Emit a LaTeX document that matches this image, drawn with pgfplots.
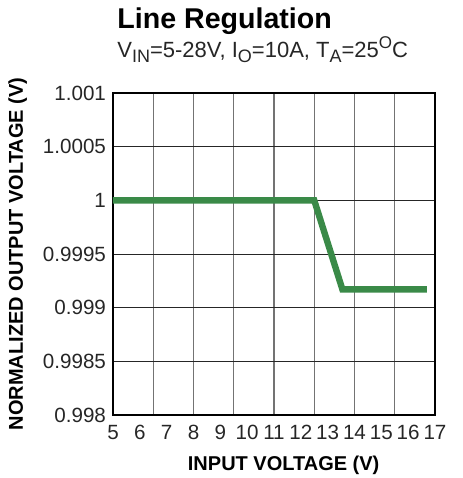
\documentclass[border=0pt]{standalone}
\usepackage{pgfplots}
\pgfplotsset{compat=1.18}
\usepackage{fontspec}
\setmainfont{Liberation Sans}
\definecolor{lineg}{HTML}{3A8A48}
\newcommand{\sub}[1]{\raisebox{-0.26em}{\fontsize{9}{9}\selectfont #1}}
\newcommand{\sups}[1]{\raisebox{0.4em}{\fontsize{8.5}{9}\selectfont #1}}
\begin{document}
\begin{tikzpicture}
\begin{axis}[
  name=ax,
  scale only axis,
  width=161pt, height=161pt,
  xmin=5, xmax=17, ymin=0.998, ymax=1.001,
  xtick={5,6,...,17},
  ytick={0.998,0.9985,0.999,0.9995,1,1.0005,1.001},
  yticklabels={0.998,0.9985,0.999,0.9995,1,1.0005,1.001},
  minor xtick={6.5,8,9.5,11,12.5,14,15.5},
  ymajorgrids, xminorgrids,
  major grid style={black!85, line width=0.5pt},
  minor grid style={black!55, line width=0.6pt},
  major tick length=0pt, minor tick length=0pt,
  axis line style={black, line width=1.1pt},
  /pgf/number format/assume math mode=true,
  ticklabel style={font=\fontsize{10.3}{11}\selectfont, text=black!85},
  xticklabel style={inner xsep=0pt, yshift=-1.5pt},
  yticklabel style={xshift=0pt},
  xlabel={\textbf{INPUT VOLTAGE (V)}},
  ylabel={\textbf{NORMALIZED OUTPUT VOLTAGE (V)}},
  label style={font=\fontsize{10.7}{11}\selectfont},
  every axis x label/.style={at={(axis description cs:0.53,0)}, anchor=base, yshift=-27.5pt},
  every axis y label/.style={at={([xshift=-45pt]axis description cs:0,0.5)}, anchor=base, rotate=90},
  clip=false,
]
\addplot[lineg, line width=3.2pt] coordinates {(5,1) (12.5,1) (13.55,0.99917) (16.7,0.99917)};
\node[anchor=base west, inner sep=0pt, font=\fontsize{14.3}{15}\selectfont\bfseries] at ([yshift=32.5pt, xshift=2pt]rel axis cs:0,1) {Line Regulation};
\node[anchor=base west, inner sep=0pt, font=\fontsize{11}{12}\selectfont, text=black!85] at ([yshift=18pt, xshift=2pt]rel axis cs:0,1) {V\sub{IN}=5-28V, I\sub{O}=10A, T\sub{A}=25\sups{O}C};
\end{axis}
\pgfresetboundingbox
\path[use as bounding box] ([xshift=-56.5pt,yshift=-31.5pt]ax.south west) rectangle ([xshift=13.5pt,yshift=46.5pt]ax.north east);
\end{tikzpicture}
\end{document}
